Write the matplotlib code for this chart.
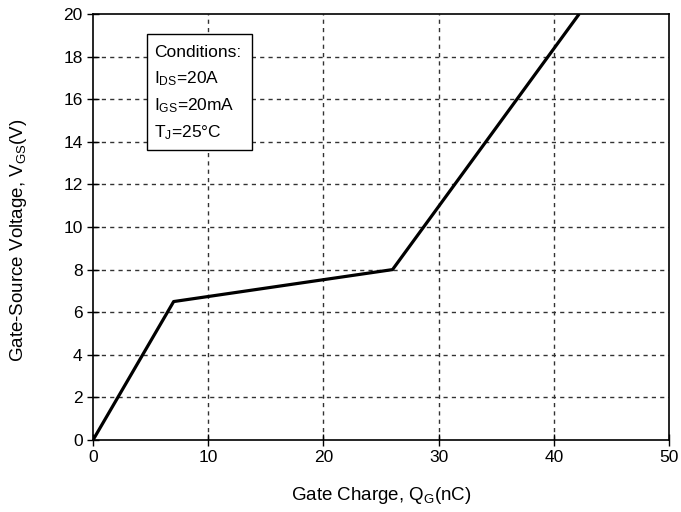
import matplotlib
matplotlib.use('Agg')
import matplotlib.pyplot as plt
from matplotlib.patches import Rectangle

plt.rcParams['font.family'] = ['Liberation Sans', 'DejaVu Sans']
plt.rcParams['mathtext.default'] = 'regular'

# gate charge curve (nC, V)
qg = [0, 7, 26, 42.2]
vgs = [0, 6.5, 8.0, 20]

x_ticks = [0, 10, 20, 30, 40, 50]
y_ticks = [0, 2, 4, 6, 8, 10, 12, 14, 16, 18, 20]

conditions = ['Conditions:', 'I$_{DS}$=20A', 'I$_{GS}$=20mA', 'T$_{J}$=25\u00b0C']

fig = plt.figure(figsize=(6.81, 5.12), dpi=100)
ax = fig.add_axes([0.1366, 0.1406, 0.8458, 0.8321])

ax.plot(qg, vgs, color='black', linewidth=2.3, solid_capstyle='butt', zorder=3)

ax.set_xlim(0, 50)
ax.set_ylim(0, 20)
ax.set_xticks(x_ticks)
ax.set_yticks(y_ticks)
ax.tick_params(direction='inout', length=8, width=1, labelsize=12.5, colors='black')
for s in ax.spines.values():
    s.set_linewidth(1.2)

# dashed grid, only interior lines
for xv in x_ticks[1:-1]:
    ax.axvline(xv, color='#333333', linestyle=(0, (3, 3)), linewidth=1, zorder=1)
for yv in y_ticks[1:-1]:
    ax.axhline(yv, color='#333333', linestyle=(0, (3, 3)), linewidth=1, zorder=1)

ax.set_xlabel('Gate Charge, Q$_G$(nC)', fontsize=13.5, labelpad=14)
ax.set_ylabel('Gate-Source Voltage, V$_{GS}$(V)', fontsize=13.5)
ax.yaxis.set_label_coords(-0.112, 0.47)

# conditions box
ax.add_patch(Rectangle((4.7, 13.6), 9.1, 5.45, facecolor='white',
                       edgecolor='black', linewidth=1, zorder=4))
for i, line in enumerate(conditions):
    ax.text(5.3, 18.2 - i * 1.25, line, fontsize=12.5, va='center', ha='left', zorder=5)

fig.savefig('out.png', dpi=100)
